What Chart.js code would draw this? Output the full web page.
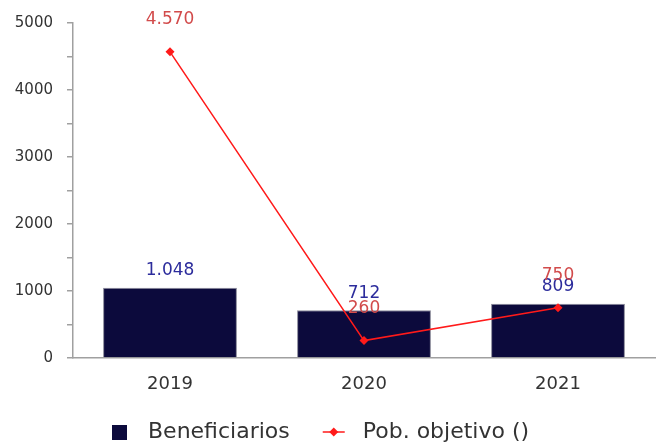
<!DOCTYPE html>
<html>
<head>
<meta charset="utf-8">
<script src="https://cdn.jsdelivr.net/npm/chart.js@4/dist/chart.umd.min.js"></script>
<style>
  html, body { margin: 0; padding: 0; background: #fff; }
  #wrap { width: 662px; height: 448px; }
</style>
</head>
<body>
<div id="wrap"><canvas id="myChart" width="662" height="448"></canvas></div>
<script>
// datos
const years = ['2019', '2020', '2021'];
const beneficiarios = [1048, 712, 809];
const pobObjetivo = [4570, 260, 750];
const yTicks = [0, 1000, 2000, 3000, 4000, 5000];

const navy = '#0c0a3c';
const red = '#ff1a1a';
const FONT = "'DejaVu Sans', sans-serif";

function fmt(v) {
    return String(v).replace(/\B(?=(\d{3})+(?!\d))/g, '.');
}

// etiquetas de valores sobre barras y puntos
const valueLabels = {
    id: 'valueLabels',
    afterDatasetsDraw(chart) {
        const ctx = chart.ctx;
        ctx.save();
        ctx.textAlign = 'center';
        ctx.textBaseline = 'middle';
        ctx.font = '17px ' + FONT;
        chart.data.datasets.forEach((ds, i) => {
            const meta = chart.getDatasetMeta(i);
            meta.data.forEach((el, j) => {
                const off = ds.type === 'line' ? 32 : 17;
                ctx.fillStyle = ds.type === 'line' ? '#d24b4b' : '#2c2c9c';
                ctx.fillText(fmt(ds.data[j]), el.x, el.y - off);
            });
        });
        ctx.restore();
    }
};

// leyenda dibujada a mano (debajo del eje x)
const bottomLegend = {
    id: 'bottomLegend',
    afterDraw(chart) {
        const ctx = chart.ctx;
        const ds = chart.data.datasets;
        const y = 432;
        ctx.save();
        ctx.font = '22px ' + FONT;
        ctx.textBaseline = 'middle';
        // Beneficiarios
        let x = 112;
        ctx.fillStyle = ds[0].backgroundColor;
        ctx.fillRect(x, y - 7, 15, 15);
        ctx.fillStyle = '#333';
        ctx.fillText(ds[0].label, x + 36, y);
        x = x + 36 + ctx.measureText(ds[0].label).width + 33;
        // Pob. objetivo
        ctx.strokeStyle = ds[1].borderColor;
        ctx.lineWidth = 1.5;
        ctx.beginPath(); ctx.moveTo(x, y); ctx.lineTo(x + 22, y); ctx.stroke();
        ctx.fillStyle = ds[1].borderColor;
        const cx = x + 11;
        ctx.beginPath();
        ctx.moveTo(cx, y - 4.5); ctx.lineTo(cx + 4.5, y); ctx.lineTo(cx, y + 4.5); ctx.lineTo(cx - 4.5, y);
        ctx.closePath(); ctx.fill();
        ctx.fillStyle = '#333';
        ctx.fillText(ds[1].label, x + 40, y);
        ctx.restore();
    }
};

const ctx = document.getElementById('myChart').getContext('2d');
new Chart(ctx, {
    data: {
        labels: years,
        datasets: [{
            type: 'bar',
            label: 'Beneficiarios',
            data: beneficiarios,
            backgroundColor: navy,
            borderColor: '#8a8a9a',
            borderWidth: 1,
            categoryPercentage: 1,
            barPercentage: 0.69,
            order: 1
        }, {
            type: 'line',
            label: 'Pob. objetivo ()',
            data: pobObjetivo,
            borderColor: red,
            backgroundColor: red,
            borderWidth: 1.5,
            pointStyle: 'rectRot',
            pointRadius: 4.5,
            pointBackgroundColor: red,
            pointBorderWidth: 0,
            tension: 0,
            order: 0
        }]
    },
    options: {
        responsive: false,
        animation: false,
        layout: { padding: { top: 20, right: 7, left: 0, bottom: 0 } },
        scales: {
            x: {
                grid: { display: false },
                border: { display: true, color: '#a0a0a0', width: 1.5 },
                ticks: { color: '#333', font: { family: FONT, size: 18 }, padding: 8 },
                afterFit(s) { s.height = 90; }
            },
            y: {
                min: 0,
                max: 5000,
                grid: { drawOnChartArea: false, drawTicks: true, tickLength: 6, color: '#a0a0a0', lineWidth: 1.5 },
                border: { display: true, color: '#a0a0a0', width: 1.5 },
                ticks: {
                    stepSize: 500,
                    autoSkip: false,
                    color: '#333',
                    font: { family: FONT, size: 15 },
                    padding: 14,
                    callback: v => yTicks.includes(v) ? String(v) : ''
                },
                afterFit(s) { s.width = 73; }
            }
        },
        plugins: {
            tooltip: { enabled: false },
            legend: { display: false }
        }
    },
    plugins: [valueLabels, bottomLegend]
});
</script>
</body>
</html>
